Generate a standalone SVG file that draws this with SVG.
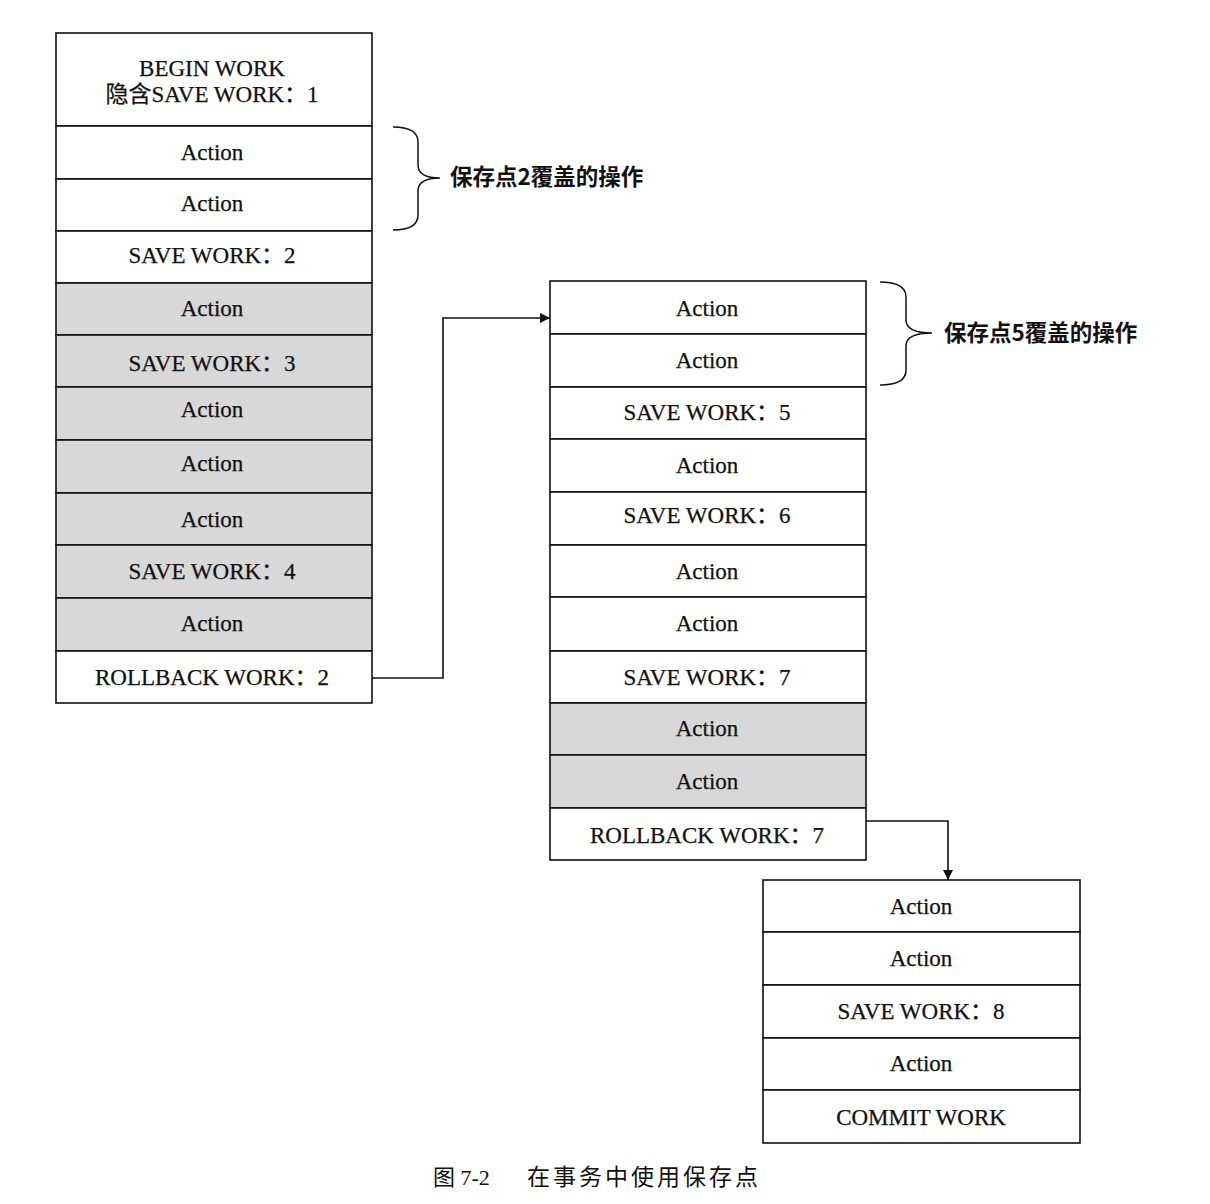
<svg xmlns="http://www.w3.org/2000/svg" width="1210" height="1204" viewBox="0 0 1210 1204">
<style>
.c{fill:#fff;stroke:#111;stroke-width:1.6}
.g{fill:#d8d8d8;stroke:#111;stroke-width:1.6}
.t{font-family:"Liberation Serif","Noto Sans CJK SC",serif;font-size:23px;fill:#111;stroke:#111;stroke-width:0.25;text-anchor:middle}
.b{font-family:"Noto Sans CJK SC",sans-serif;font-size:22.5px;font-weight:bold;fill:#111}
.w{fill:none;stroke:#111;stroke-width:1.6}
.br{fill:none;stroke:#111;stroke-width:1.5}
</style>
<defs>
<marker id="ah" viewBox="0 0 10 10" refX="10" refY="5" markerWidth="15" markerHeight="10" markerUnits="userSpaceOnUse" orient="auto">
<path d="M0,0 L10,5 L0,10 z" fill="#111"/>
</marker>
</defs>
<rect width="1210" height="1204" fill="#fff"/>

<g id="left">
<g id="l1"><rect class="c" x="56" y="33" width="316" height="93"/><text class="t" x="212" y="76">BEGIN WORK</text><text class="t" x="212" y="102">隐含SAVE WORK：1</text></g>
<g id="l2"><rect class="c" x="56" y="126" width="316" height="53"/><text class="t" x="212" y="160">Action</text></g>
<g id="l3"><rect class="c" x="56" y="179" width="316" height="52"/><text class="t" x="212" y="211">Action</text></g>
<g id="l4"><rect class="c" x="56" y="231" width="316" height="52"/><text class="t" x="212" y="263">SAVE WORK：2</text></g>
<g id="l5"><rect class="g" x="56" y="283" width="316" height="52"/><text class="t" x="212" y="316">Action</text></g>
<g id="l6"><rect class="g" x="56" y="335" width="316" height="52"/><text class="t" x="212" y="371">SAVE WORK：3</text></g>
<g id="l7"><rect class="g" x="56" y="387" width="316" height="53"/><text class="t" x="212" y="417">Action</text></g>
<g id="l8"><rect class="g" x="56" y="440" width="316" height="53"/><text class="t" x="212" y="471">Action</text></g>
<g id="l9"><rect class="g" x="56" y="493" width="316" height="52"/><text class="t" x="212" y="527">Action</text></g>
<g id="l10"><rect class="g" x="56" y="545" width="316" height="53"/><text class="t" x="212" y="579">SAVE WORK：4</text></g>
<g id="l11"><rect class="g" x="56" y="598" width="316" height="53"/><text class="t" x="212" y="631">Action</text></g>
<g id="l12"><rect class="c" x="56" y="651" width="316" height="52"/><text class="t" x="212" y="685">ROLLBACK WORK：2</text></g>
</g>

<g id="mid">
<g id="m1"><rect class="c" x="550" y="281" width="316" height="53"/><text class="t" x="707" y="316">Action</text></g>
<g id="m2"><rect class="c" x="550" y="334" width="316" height="53"/><text class="t" x="707" y="368">Action</text></g>
<g id="m3"><rect class="c" x="550" y="387" width="316" height="52"/><text class="t" x="707" y="420">SAVE WORK：5</text></g>
<g id="m4"><rect class="c" x="550" y="439" width="316" height="53"/><text class="t" x="707" y="473">Action</text></g>
<g id="m5"><rect class="c" x="550" y="492" width="316" height="53"/><text class="t" x="707" y="523">SAVE WORK：6</text></g>
<g id="m6"><rect class="c" x="550" y="545" width="316" height="52"/><text class="t" x="707" y="579">Action</text></g>
<g id="m7"><rect class="c" x="550" y="597" width="316" height="54"/><text class="t" x="707" y="631">Action</text></g>
<g id="m8"><rect class="c" x="550" y="651" width="316" height="52"/><text class="t" x="707" y="685">SAVE WORK：7</text></g>
<g id="m9"><rect class="g" x="550" y="703" width="316" height="52"/><text class="t" x="707" y="736">Action</text></g>
<g id="m10"><rect class="g" x="550" y="755" width="316" height="53"/><text class="t" x="707" y="789">Action</text></g>
<g id="m11"><rect class="c" x="550" y="808" width="316" height="52"/><text class="t" x="707" y="843">ROLLBACK WORK：7</text></g>
</g>

<g id="right">
<g id="r1"><rect class="c" x="763" y="880" width="317" height="52"/><text class="t" x="921" y="914">Action</text></g>
<g id="r2"><rect class="c" x="763" y="932" width="317" height="53"/><text class="t" x="921" y="966">Action</text></g>
<g id="r3"><rect class="c" x="763" y="985" width="317" height="53"/><text class="t" x="921" y="1019">SAVE WORK：8</text></g>
<g id="r4"><rect class="c" x="763" y="1038" width="317" height="52"/><text class="t" x="921" y="1071">Action</text></g>
<g id="r5"><rect class="c" x="763" y="1090" width="317" height="53"/><text class="t" x="921" y="1125">COMMIT WORK</text></g>
</g>

<g id="brace1">
<path class="br" d="M393,127 Q418,127 418,142 L418,165 Q418,178 440,178 Q418,178 418,191 L418,215 Q418,230 393,230"/>
<text class="b" x="450" y="185">保存点2覆盖的操作</text>
</g>
<g id="brace2">
<path class="br" d="M880,282 Q906,282 906,297 L906,320 Q906,333 932,333 Q906,333 906,346 L906,370 Q906,385 880,385"/>
<text class="b" x="944" y="341">保存点5覆盖的操作</text>
</g>

<g id="connectors">
<path class="w" d="M372,678 L443,678 L443,318 L550,318" marker-end="url(#ah)"/>
<path class="w" d="M866,821 L948,821 L948,880" marker-end="url(#ah)"/>
</g>

<g id="caption">
<text x="433" y="1185" font-family="Liberation Serif,Noto Sans CJK SC,serif" font-size="22" fill="#111">图 7-2</text>
<text x="527" y="1185" font-family="Noto Sans CJK SC,sans-serif" font-size="23" fill="#111" textLength="231" lengthAdjust="spacing">在事务中使用保存点</text>
</g>
</svg>
